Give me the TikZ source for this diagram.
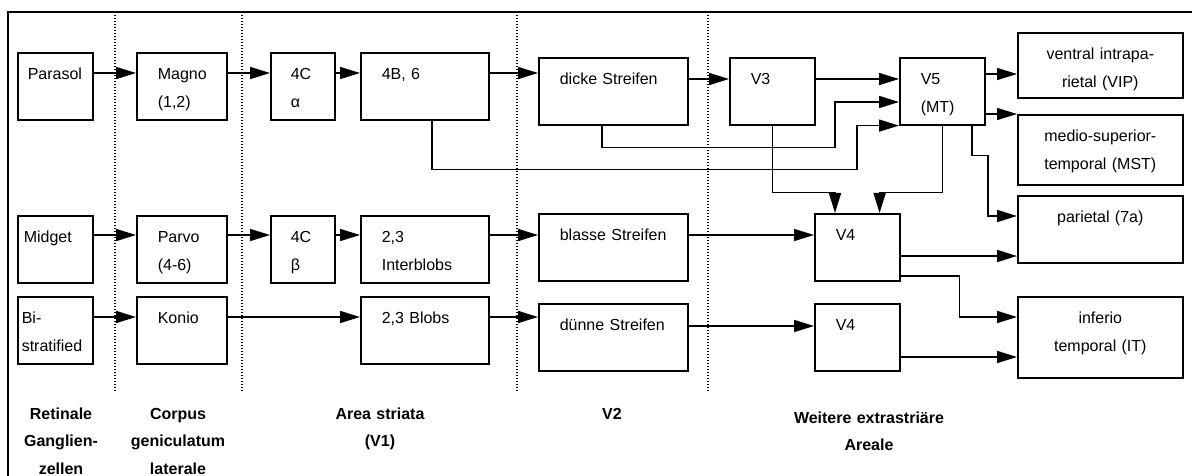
\documentclass[tikz,border=0pt]{standalone}
\usepackage{fontspec}
\setmainfont{Liberation Sans}
\usetikzlibrary{arrows.meta}
\tikzset{
  area/.style={draw,line width=1.6pt,anchor=north west,align=left,inner xsep=21pt,inner ysep=0pt,text width=#1,text height=27pt,text depth=40pt},
  goal/.style={area=#1,align=center,inner xsep=4pt},
  arr/.style={-{Triangle[length=20pt,width=12pt]},line width=1.6pt},
}
\begin{document}
\begin{tikzpicture}[x=1pt,y=-1pt,font=\fontsize{16}{28}\selectfont,
       sep/.style={line width=1.2pt,dash pattern=on 1.4pt off 1.6pt},
       stage/.style={font=\fontsize{16}{27.5}\selectfont\bfseries,align=center,anchor=north,inner sep=0pt,text width=170pt,text height=12pt}]
  \useasboundingbox (0,0) rectangle (1192,476);
  \draw[line width=1.4pt] (8,476) -- (8,12) -- (1192,12);
  \foreach \x in {115,242,517,708} { \draw[sep] (\x,12) -- (\x,391); }
  \node[area=55pt,inner xsep=10pt] (parasol) at (17,52) {Parasol};
  \node[area=63pt,inner xsep=6pt] (midget) at (17,215) {Midget};
  \node[area=67pt,inner xsep=4pt] (bistrat) at (17,296) {Bi-\\stratified};
  \node[area=48pt] (magno) at (136,52) {Magno\\(1,2)};
  \node[area=48pt] (parvo) at (136,215) {Parvo\\(4-6)};
  \node[area=48pt] (konio) at (136,296) {Konio};
  \node[area=24pt,inner xsep=20pt] (alpha) at (270,52) {4C\\α};
  \node[area=24pt,inner xsep=20pt] (beta) at (270,215) {4C\\β};
  \node[area=86pt] (layerB) at (360,52) {4B, 6};
  \node[area=86pt] (inter) at (360,215) {2,3\\Interblobs};
  \node[area=86pt] (blobs) at (360,296) {2,3 Blobs};
  \node[area=107pt] (thick) at (538,57) {dicke Streifen};
  \node[area=107pt] (pale) at (538,213) {blasse Streifen};
  \node[area=107pt] (thin) at (538,303) {dünne Streifen};
  \node[area=43pt] (vthree) at (729,57) {V3};
  \node[area=43pt] (vfive) at (899,57) {V5\\(MT)};
  \node[area=43pt] (vfour) at (814,213) {V4};
  \node[area=43pt] (vfourb) at (814,303) {V4};
  \node[goal=157pt,text depth=38pt] (vip) at (1017,32) {ventral intrapa-\\rietal (VIP)};
  \node[goal=157pt,text depth=43pt] (mst) at (1017,114) {medio-superior-\\temporal (MST)};
  \node[goal=157pt] (parietal) at (1017,195) {parietal (7a)};
  \node[goal=157pt,text depth=54pt] (it) at (1017,296) {inferio\\temporal (IT)};
  \draw[arr] ([yshift=-21pt]parasol.north east) -- ([yshift=-21pt]magno.north west);
  \draw[arr] ([yshift=-21pt]magno.north east) -- ([yshift=-21pt]alpha.north west);
  \draw[arr] ([yshift=-21pt]alpha.north east) -- ([yshift=-21pt]layerB.north west);
  \draw[arr] ([yshift=-21pt]layerB.north east) -- ([yshift=-16pt]thick.north west);
  \draw[arr] ([yshift=-22pt]thick.north east) -- ([yshift=-22pt]vthree.north west);
  \draw[arr] ([yshift=-22pt]vthree.north east) -- ([yshift=-22pt]vfive.north west);
  \draw[arr] ([yshift=-17pt]vfive.north east) -- ([yshift=-42pt]vip.north west);
  \draw[arr] (vfive.east |- mst.north west) -- (mst.north west);
  \draw[arr] ([xshift=73pt]vfive.south west) -- ++(0,30) -- ++(16,0) |- ([yshift=-21pt]parietal.north west);
  \draw[arr] ([xshift=64pt]thick.south west) -- ++(0,22) -- ++(233,0) |- ([yshift=-45pt]vfive.north west);
  \draw[arr] ([xshift=72pt]layerB.south west) -- ++(0,49) -- ++(425,0) |- (vfive.south west);
  \draw[arr] (vthree.south) -- ++(0,67) -| ([xshift=21pt]vfour.north west);
  \draw[arr] (vfive.south) -- ++(0,67) -| ([xshift=-21pt]vfour.north east);
  \draw[arr] ([yshift=-20pt]midget.north east) -- ([yshift=-20pt]parvo.north west);
  \draw[arr] ([yshift=-20pt]parvo.north east) -- ([yshift=-20pt]beta.north west);
  \draw[arr] ([yshift=-20pt]beta.north east) -- ([yshift=-20pt]inter.north west);
  \draw[arr] ([yshift=-20pt]inter.north east) -- ([yshift=-22pt]pale.north west);
  \draw[arr] ([yshift=-22pt]pale.north east) -- ([yshift=-22pt]vfour.north west);
  \draw[arr] ([yshift=-43pt]vfour.north east) -- ([yshift=-61pt]parietal.north west);
  \draw[arr] ([yshift=-63pt]vfour.north east) -- ++(59,0) |- ([yshift=-21pt]it.north west);
  \draw[arr] ([yshift=-21pt]bistrat.north east) -- ([yshift=-21pt]konio.north west);
  \draw[arr] ([yshift=-21pt]konio.north east) -- ([yshift=-21pt]blobs.north west);
  \draw[arr] ([yshift=-21pt]blobs.north east) -- ([yshift=-14pt]thin.north west);
  \draw[arr] ([yshift=-23pt]thin.north east) -- ([yshift=-23pt]vfourb.north west);
  \draw[arr] ([yshift=-54pt]vfourb.north east) -- ([yshift=-61pt]it.north west);
  \node[stage] (retina) at (61,407) {Retinale\\Ganglien-\\zellen};
  \node[stage] (cgl) at (178,407) {Corpus\\geniculatum\\laterale};
  \node[stage] (striata) at (380,407) {Area striata\\(V1)};
  \node[stage] (vtwo) at (612,407) {V2};
  \node[stage] (extra) at (869,411) {Weitere extrastriäre\\Areale};
\end{tikzpicture}
\end{document}
